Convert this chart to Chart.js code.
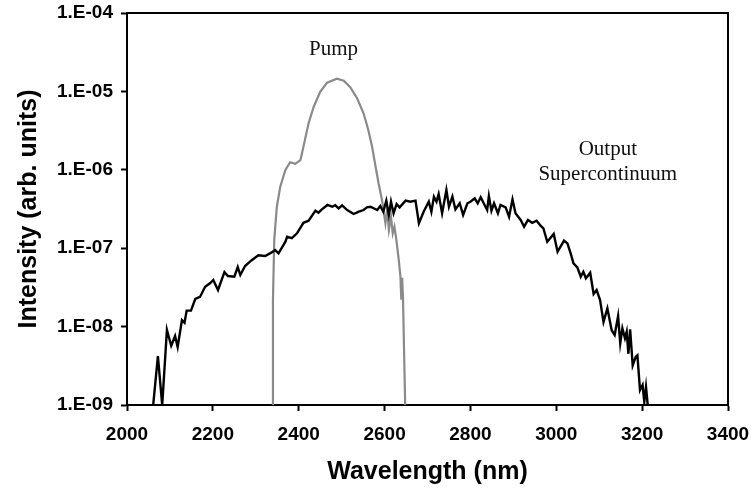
<!DOCTYPE html>
<html>
<head>
<meta charset="utf-8">
<script src="https://cdn.jsdelivr.net/npm/chart.js@4.4.1/dist/chart.umd.min.js"></script>
<style>
  html, body { margin: 0; padding: 0; background: #fff; }
  #wrap { width: 751px; height: 492px; }
</style>
</head>
<body>
<div id="wrap"><canvas id="c" width="751" height="492"></canvas></div>
<script>
// --- DATA ---
const scWavelength = [
  2061, 2072, 2082, 2093, 2103, 2112, 2118, 2128, 2134, 2139,
  2149, 2159, 2170, 2182, 2194, 2201, 2212, 2227, 2235, 2250,
  2258, 2264, 2275, 2289, 2306, 2322, 2336, 2345, 2353, 2369,
  2373, 2384, 2396, 2411, 2423, 2439, 2446, 2454, 2467, 2478,
  2485, 2493, 2501, 2513, 2528, 2540, 2551, 2559, 2567, 2583,
  2590, 2597, 2604, 2610, 2615, 2621, 2628, 2635, 2649, 2660,
  2672, 2680, 2691, 2703, 2709, 2715, 2721, 2726, 2734, 2744,
  2750, 2758, 2765, 2775, 2783, 2793, 2800, 2810, 2817, 2824,
  2833, 2839, 2843, 2849, 2855, 2864, 2870, 2882, 2890, 2898,
  2905, 2917, 2925, 2934, 2944, 2954, 2964, 2970, 2979, 2994,
  3003, 3018, 3026, 3034, 3040, 3049, 3057, 3063, 3069, 3079,
  3087, 3094, 3102, 3110, 3119, 3129, 3136, 3144, 3149, 3154,
  3160, 3164, 3168, 3172, 3178, 3185, 3189, 3195, 3201, 3205,
  3209, 3213
];
const scIntensity = [
  1e-9, 4.2e-9, 1e-9, 9.1e-9, 5.7e-9, 7.6e-9, 5.5e-9, 1.21e-8, 1.12e-8, 1.6e-8,
  1.6e-8, 2.25e-8, 2.39e-8, 3.23e-8, 3.6e-8, 3.93e-8, 2.93e-8, 4.97e-8, 4.42e-8, 4.33e-8,
  5.75e-8, 4.55e-8, 5.93e-8, 6.93e-8, 8.11e-8, 7.96e-8, 8.77e-8, 9.48e-8, 8.61e-8, 1.21e-7,
  1.4e-7, 1.34e-7, 1.55e-7, 2.11e-7, 2.24e-7, 3.01e-7, 2.84e-7, 3.13e-7, 3.56e-7, 3.38e-7,
  3.53e-7, 3.23e-7, 3.53e-7, 3.07e-7, 2.73e-7, 2.92e-7, 3.07e-7, 3.32e-7, 3.38e-7, 3.07e-7,
  3.45e-7, 2.92e-7, 4.04e-7, 2.65e-7, 3.92e-7, 2.79e-7, 3.66e-7, 3.32e-7, 4.04e-7, 3.92e-7,
  4.04e-7, 2.08e-7, 2.92e-7, 3.92e-7, 2.92e-7, 4.54e-7, 3.92e-7, 4.91e-7, 2.79e-7, 5.52e-7,
  3.38e-7, 4.54e-7, 3.13e-7, 3.74e-7, 2.65e-7, 3.74e-7, 3.92e-7, 4.33e-7, 3.74e-7, 4.46e-7,
  3.56e-7, 3.07e-7, 4.63e-7, 3.01e-7, 3.74e-7, 2.79e-7, 3.56e-7, 3.32e-7, 2.52e-7, 4.2e-7,
  2.79e-7, 2.29e-7, 1.88e-7, 2.29e-7, 2.11e-7, 2.24e-7, 1.92e-7, 1.79e-7, 1.21e-7, 1.52e-7,
  9.0e-8, 1.25e-7, 1.15e-7, 8.4e-8, 6.4e-8, 5.7e-8, 4.33e-8, 5.0e-8, 4.13e-8, 4.87e-8,
  2.61e-8, 2.93e-8, 2.18e-8, 1.15e-8, 1.71e-8, 9.0e-9, 7.8e-9, 1.36e-8, 6.1e-9, 9.5e-9,
  7.1e-9, 8.6e-9, 4.5e-9, 9.2e-9, 3.2e-9, 4.1e-9, 4.3e-9, 1.55e-9, 1.8e-9, 1.1e-9,
  1.7e-9, 1e-9
];

const pumpWavelength = [
  2338, 2340, 2343, 2349, 2357, 2369, 2380, 2392, 2404, 2411,
  2423, 2435, 2450, 2466, 2489, 2505, 2520, 2536, 2551, 2559,
  2563, 2571, 2579, 2586, 2594, 2602, 2606, 2610, 2615, 2619,
  2623, 2628, 2633, 2637, 2639, 2641, 2643, 2648
];
const pumpIntensity = [
  1e-9, 2.18e-8, 1.27e-7, 3.38e-7, 6.08e-7, 9.94e-7, 1.25e-6, 1.19e-6, 1.33e-6, 1.97e-6,
  3.92e-6, 6.38e-6, 9.91e-6, 1.29e-5, 1.45e-5, 1.37e-5, 1.13e-5, 8.17e-6, 5.26e-6, 3.73e-6,
  3.06e-6, 1.97e-6, 1.10e-6, 6.73e-7, 4.12e-7, 2.08e-7, 3.07e-7, 1.71e-7, 2.52e-7, 1.55e-7,
  1.88e-7, 1.21e-7, 7.1e-8, 4.3e-8, 2.2e-8, 4.2e-8, 2.2e-8, 1e-9
];

const yTicks = [1e-9, 1e-8, 1e-7, 1e-6, 1e-5, 1e-4];
const yTickLabels = ['1.E-09', '1.E-08', '1.E-07', '1.E-06', '1.E-05', '1.E-04'];

// labels placed on the plot (data coordinates)
const notes = [
  { text: 'Pump', x: 2481, y: 3.4e-5 },
  { text: 'Output', x: 3120, y: 1.8e-6 },
  { text: 'Supercontinuum', x: 3120, y: 8.8e-7 }
];

const toPoints = (xs, ys) => xs.map((x, i) => ({ x: x, y: ys[i] }));

// box on top + right side and text notes
const extras = {
  id: 'extras',
  afterDatasetsDraw(chart) {
    const { ctx, chartArea: a, scales } = chart;
    ctx.save();
    ctx.strokeStyle = '#000';
    ctx.lineWidth = 2;
    ctx.beginPath();
    ctx.moveTo(a.left, a.top);
    ctx.lineTo(a.right, a.top);
    ctx.lineTo(a.right, a.bottom);
    ctx.stroke();

    ctx.fillStyle = '#111';
    ctx.font = '21px "Liberation Serif", "Times New Roman", serif';
    ctx.textAlign = 'center';
    ctx.textBaseline = 'middle';
    notes.forEach(n => {
      ctx.fillText(n.text, scales.x.getPixelForValue(n.x), scales.y.getPixelForValue(n.y));
    });
    ctx.restore();
  }
};

const tickFont = { family: '"Liberation Sans", Arial, sans-serif', size: 19, weight: 'bold' };
const titleFont = { family: '"Liberation Sans", Arial, sans-serif', size: 25, weight: 'bold' };

new Chart(document.getElementById('c'), {
  type: 'scatter',
  data: {
    datasets: [
      {
        label: 'Output Supercontinuum',
        data: toPoints(scWavelength, scIntensity),
        showLine: true,
        borderColor: '#000',
        borderWidth: 2.4,
        pointRadius: 0,
        tension: 0
      },
      {
        label: 'Pump',
        data: toPoints(pumpWavelength, pumpIntensity),
        showLine: true,
        borderColor: '#8a8a8a',
        borderWidth: 2.2,
        pointRadius: 0,
        tension: 0
      }
    ]
  },
  options: {
    responsive: false,
    animation: false,
    layout: { padding: { top: 13, right: 23, left: 0, bottom: 0 } },
    plugins: { legend: { display: false }, tooltip: { enabled: false } },
    scales: {
      x: {
        type: 'linear',
        min: 2000,
        max: 3400,
        afterFit: s => { s.height = 87; s.paddingLeft = 0; s.paddingRight = 0; },
        ticks: { stepSize: 200, color: '#000', font: tickFont, padding: 12, maxRotation: 0, callback: v => String(v) },
        grid: { drawOnChartArea: false, drawTicks: true, tickLength: 6, tickWidth: 2, tickColor: '#000' },
        border: { display: true, color: '#000', width: 2 },
        title: { display: true, text: 'Wavelength (nm)', color: '#000', font: titleFont, padding: { top: 0, bottom: 5 } }
      },
      y: {
        type: 'logarithmic',
        min: 1e-9,
        max: 1e-4,
        afterFit: s => { s.width = 127; s.paddingTop = 0; s.paddingBottom = 0; },
        afterBuildTicks: s => { s.ticks = yTicks.map(v => ({ value: v })); },
        ticks: {
          color: '#000',
          font: tickFont,
          padding: 8,
          callback: v => yTickLabels[yTicks.findIndex(t => Math.abs(Math.log10(t) - Math.log10(v)) < 1e-6)]
        },
        grid: { drawOnChartArea: false, drawTicks: true, tickLength: 6, tickWidth: 2, tickColor: '#000' },
        border: { display: true, color: '#000', width: 2 },
        title: { display: true, text: 'Intensity (arb. units)', color: '#000', font: titleFont, padding: { top: 14, bottom: 0 } }
      }
    }
  },
  plugins: [extras]
});
</script>
</body>
</html>
